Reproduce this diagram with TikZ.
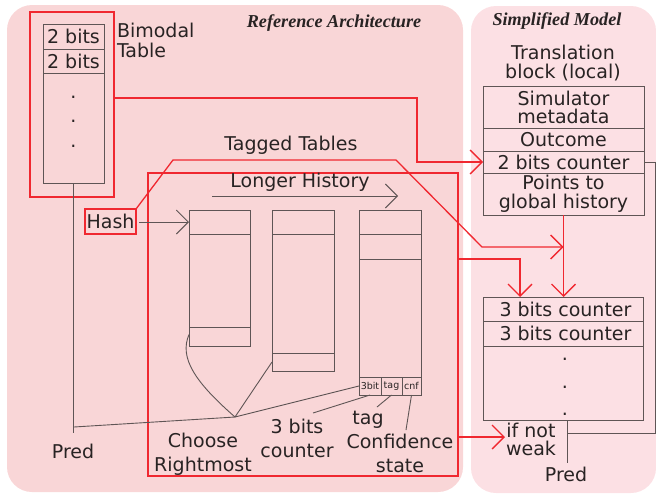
\documentclass[tikz,border=0pt]{standalone}
\usepackage{fontspec}
\setmainfont{DejaVu Sans}
\newfontfamily\titlefont{Liberation Serif}
\usetikzlibrary{arrows.meta,calc}
\definecolor{leftbg}{RGB}{249,214,215}
\definecolor{rightbg}{RGB}{252,224,228}
\definecolor{redl}{RGB}{240,40,48}
\definecolor{ink}{RGB}{40,35,35}
\definecolor{boxc}{RGB}{95,85,85}
\newcommand\mylbl{\fontsize{19}{20}\selectfont}
\newcommand\mysmall{\fontsize{9.5}{10}\selectfont}
\begin{document}
\begin{tikzpicture}[x=1pt,y=-1pt,
  tab/.style={draw=boxc, line width=0.9pt, inner sep=0pt, outer sep=0pt, anchor=north west, text=ink, font=\mylbl, align=center},
  smallcell/.style={tab, font=\mysmall},
  redbox/.style={draw=redl, line width=1.3pt, inner sep=0pt, outer sep=0pt, anchor=north west},
  redln/.style={draw=redl, line width=1.3pt},
  blk/.style={draw=boxc, line width=0.9pt},
  arr/.style={-{Straight Barb[length=12pt,width=24pt]}},
  txt/.style={inner sep=0pt, outer sep=0pt, text=ink, font=\mylbl, align=center},
  ttl/.style={inner sep=0pt, outer sep=0pt, text=ink, font=\titlefont\bfseries\itshape\fontsize{18.2}{19}\selectfont}
]
\useasboundingbox (0,0) rectangle (656,493);
% panels
\fill[leftbg, rounded corners=25pt] (7,5) rectangle (463,492);
\fill[rightbg, rounded corners=25pt] (471,6) rectangle (656,493);

% titles
\node[ttl, anchor=base] (ttlL) at (334,27) {Reference Architecture};
\node[ttl, anchor=base] (ttlR) at (557,25) {Simplified Model};

% bimodal table
\node[redbox, minimum width=84pt, minimum height=185pt] (bimred) at (30,12) {};
\node[tab, minimum width=61pt, minimum height=25pt] (b1) at (43,24) {2 bits};
\node[tab, minimum width=61pt, minimum height=24pt] (b2) at (43,49) {2 bits};
\node[tab, minimum width=61pt, minimum height=110pt] (b3) at (43,73) {};
\node[txt, anchor=base] (bd1) at (73.5,98.5) {.};
\node[txt, anchor=base] (bd2) at (73.5,122.5) {.};
\node[txt, anchor=base] (bd3) at (73.5,147.5) {.};
\node[txt, anchor=base west, align=left, font=\fontsize{19}{20}\selectfont] (bimlbl) at (117,57) {Bimodal\\Table};

% hash
\node[redbox, minimum width=51pt, minimum height=25pt, font=\mylbl, text=ink] (hash) at (85,209) {Hash};

% tagged tables
\node[redbox, minimum width=310pt, minimum height=303pt] (tagred) at (148,173) {};
\node[txt, anchor=base] (taglbl) at (291,150) {Tagged Tables};
\node[txt, anchor=base] (longer) at (300,187) {Longer History};
\coordinate (lh1) at (212,196);
\coordinate (lh2) at (398,196);
\draw[blk, arr] (lh1) -- (lh2);

% table 1
\node[tab, minimum width=61pt, minimum height=24pt] (t1a) at (189,210) {};
\node[tab, minimum width=61pt, minimum height=93pt] (t1b) at (189,234) {};
\node[tab, minimum width=61pt, minimum height=19pt] (t1c) at (189,327) {};
% table 2
\node[tab, minimum width=62pt, minimum height=24pt] (t2a) at (272,210) {};
\node[tab, minimum width=62pt, minimum height=119pt] (t2b) at (272,234) {};
\node[tab, minimum width=62pt, minimum height=18pt] (t2c) at (272,353) {};
% table 3
\node[tab, minimum width=62pt, minimum height=24pt] (t3a) at (359,210) {};
\node[tab, minimum width=62pt, minimum height=25pt] (t3b) at (359,234) {};
\node[tab, minimum width=62pt, minimum height=118pt] (t3c) at (359,259) {};
\node[smallcell, minimum width=22pt, minimum height=18pt] (t3d1) at (359,377) {3bit};
\node[smallcell, minimum width=21pt, minimum height=18pt] (t3d2) at (381,377) {tag};
\node[smallcell, minimum width=19pt, minimum height=18pt] (t3d3) at (402,377) {cnf};

% hash arrow
\draw[blk, arr, shorten <=3pt] (hash.east |- t1a.west) -- (t1a.west);

% choose rightmost
\coordinate (jn) at (235,417);
\coordinate (pj) at (74,427);
\draw[blk] ($(t1c.west)+(0,-2)$) .. controls (179,358) and (195,382) .. (jn);
\draw[blk] (t2c.west) -- (jn);
\draw[blk] (t3d1.west) -- (jn);
\draw[blk] (jn) -- (pj);
\coordinate (pb) at (74,433);
\draw[blk] (b3.south) -- (b3.south |- pb);
\node[txt, anchor=base] (predL) at (73,458) {Pred};

\node[txt, anchor=base, font=\fontsize{19}{24.5}\selectfont] (choose) at (203,471.5) {Choose\\Rightmost};
\node[txt, anchor=base, font=\fontsize{19}{24}\selectfont] (cnt3) at (297,457) {3 bits\\counter};
\node[txt, anchor=base] (tagl) at (368,424) {tag};
\node[txt, anchor=base, font=\fontsize{19}{24}\selectfont] (conf) at (400,472) {Confidence\\state};
\coordinate (ld1) at (313,413);
\coordinate (ld2) at (377,407);
\coordinate (ld3) at (406,430);
\draw[blk] (ld1) -- (t3d1.south);
\draw[blk] (ld2) -- (t3d2.south);
\draw[blk] (ld3) -- (t3d3.south);

% translation block
\node[txt, anchor=base, font=\fontsize{19}{19}\selectfont] (trlbl) at (563,78) {Translation\\block (local)};
\node[tab, minimum width=161pt, minimum height=42pt, font=\fontsize{19}{18}\selectfont] (tr1) at (483,86) {Simulator\\metadata};
\node[tab, minimum width=161pt, minimum height=23pt] (tr2) at (483,128) {Outcome};
\node[tab, minimum width=161pt, minimum height=22pt] (tr3) at (483,151) {2 bits counter};
\node[tab, minimum width=161pt, minimum height=42pt, font=\fontsize{19}{19}\selectfont] (tr4) at (483,173) {Points to\\global history};

% counter table
\node[tab, minimum width=160pt, minimum height=24pt] (c1) at (483,297) {\hspace{5pt}3 bits counter};
\node[tab, minimum width=160pt, minimum height=25pt] (c2) at (483,321) {\hspace{5pt}3 bits counter};
\node[tab, minimum width=160pt, minimum height=74pt] (c3) at (483,346) {};
\node[txt, anchor=base] (cd1) at (565,360) {.};
\node[txt, anchor=base] (cd2) at (565,388) {.};
\node[txt, anchor=base] (cd3) at (565,415) {.};
\node[txt, anchor=base, font=\fontsize{19}{18}\selectfont] (ifnot) at (531,455.5) {if not\\weak};
\node[txt, anchor=base] (predR) at (566,481) {Pred};
\coordinate (pr1) at (567,433);
\coordinate (pr2) at (567,463);
\draw[blk] (c3.south -| pr1) -- (pr2);
\coordinate (rb1) at (655,162);
\coordinate (rb2) at (655,433);
\draw[blk] (tr3.east) -- (rb1) -- (rb2) -- (pr1);

% red connectors
\coordinate (r1a) at (417,98);
\coordinate (r1b) at (417,162);
\draw[redln, arr] (bimred.east |- r1a) -- (r1a) -- (r1b) -- (tr3.west);
\coordinate (h1) at (173,160);
\coordinate (h2) at (396,160);
\coordinate (h3) at (482,247);
\draw[redln, arr] (hash.north east) -- (h1) -- (h2) -- (h3) -- (tr4.south |- h3);
\draw[redln, arr] (tr4.south) -- (tr4.south |- c1.north);
\coordinate (r4) at (520,259);
\draw[redln, arr] (tagred.east |- r4) -- (r4) -- (r4 |- c1.north);
\coordinate (r5) at (505,437);
\draw[redln, arr] (tagred.east |- r5) -- (r5);
\end{tikzpicture}
\end{document}
